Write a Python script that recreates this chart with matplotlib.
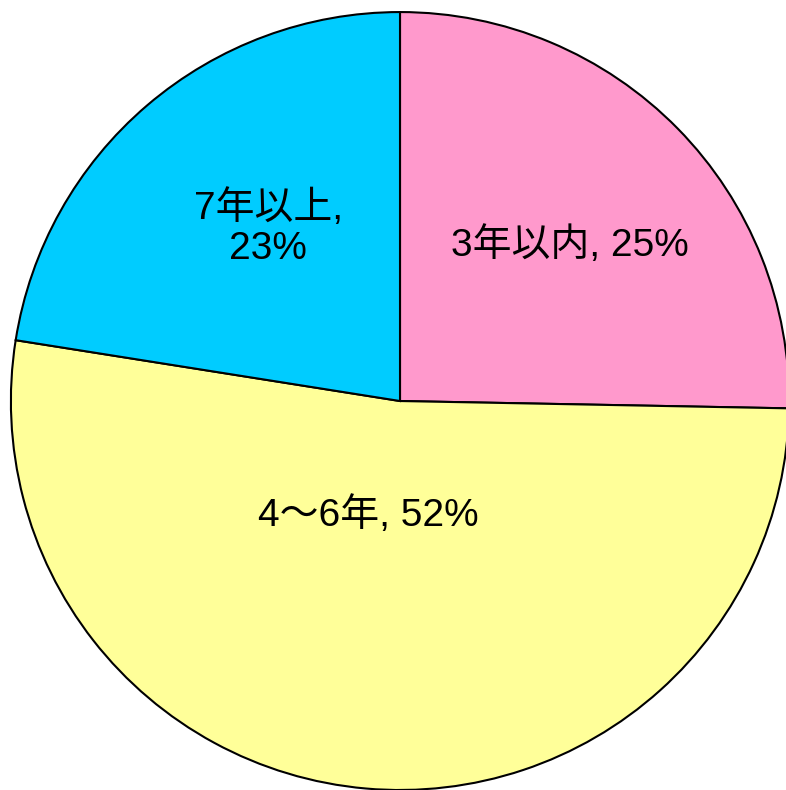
import matplotlib.pyplot as plt

plt.rcParams['font.family'] = ['Liberation Sans', 'Noto Sans CJK JP']

# data
categories = ['3年以内', '4～6年', '7年以上']
shares = [25.3, 52.2, 22.5]
pct_labels = ['25%', '52%', '23%']
colors = ['#FF99CC', '#FFFF99', '#00CCFF']

fig = plt.figure(figsize=(7.86, 7.90), dpi=100)
ax = fig.add_axes([0, 0, 1, 1])

wedges, _ = ax.pie(shares, colors=colors, startangle=90, counterclock=False,
                   wedgeprops=dict(edgecolor='black', linewidth=1.5))

# label text + where it sits (data coords, radius 1 pie)
texts = [categories[0] + ', ' + pct_labels[0],
         categories[1] + ', ' + pct_labels[1],
         categories[2] + ',\n' + pct_labels[2]]
label_xy = [(0.437, 0.401), (-0.082, -0.293), (-0.339, 0.445)]
for t, (x, y) in zip(texts, label_xy):
    ax.text(x, y, t, ha='center', va='center', fontsize=28, linespacing=1.15)

ax.set_xlim(-1.028, 0.992)
ax.set_ylim(-1.0, 1.031)
ax.set_aspect('auto')
ax.axis('off')

fig.savefig('out.png', dpi=100)
